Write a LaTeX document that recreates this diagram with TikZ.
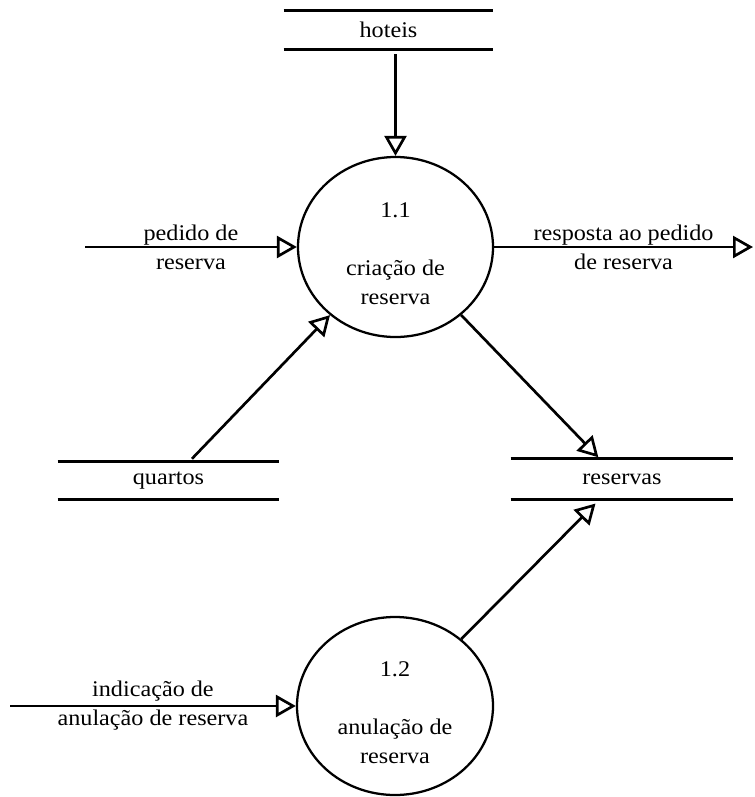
\documentclass[tikz,border=0pt]{standalone}
\usepackage{fontspec}
\setmainfont{Liberation Serif}[FakeStretch=1.08]
\usetikzlibrary{arrows.meta,shapes.geometric,calc}

\begin{document}
\begin{tikzpicture}[x=0.75pt,y=-0.75pt,
  every node/.style={font=\fontsize{16.8pt}{21.75pt}\selectfont, inner sep=0pt},
  process/.style={ellipse, draw, line width=1.7pt},
  proctext/.style={align=center},
  store/.style={},
  storeline/.style={line width=2pt},
  flow/.style={line width=2pt, -{Triangle[open,length=15pt,width=16.5pt]}},
  flowlabel/.style={align=center}]

  \useasboundingbox (0,0) rectangle (755,797);

  % data stores
  \node[store, minimum width=156.75pt, minimum height=28.5pt] (hoteis) at (388.5,30) {hoteis};
  \node[store, minimum width=165.75pt, minimum height=27.75pt] (quartos) at (168.5,480.5) {quartos};
  \node[store, minimum width=166.5pt, minimum height=30pt] (reservas) at (622,479) {reservas};
  \foreach \s in {hoteis,quartos,reservas} {
    \draw[storeline] (\s.north west) -- (\s.north east);
    \draw[storeline] (\s.south west) -- (\s.south east);
  }

  % processes
  \node[process, minimum width=146.25pt, minimum height=135pt] (p11) at (395.5,247) {};
  \node[proctext] (p11label) at (395.5,254) {1.1\\[21.75pt]criação de\\reserva};
  \node[process, minimum width=147pt, minimum height=133.5pt] (p12) at (395,706) {};
  \node[proctext] (p12label) at (395,712.5) {1.2\\[21.75pt]anulação de\\reserva};

  % external flow ends
  \coordinate (pedidoIn) at (85,247);
  \coordinate (respostaOut) at (753,247);
  \coordinate (anulIn) at (10,706);

  % data flows
  \draw[flow, shorten <=3.75pt] (hoteis.south -| p11.north) -- (p11.north);
  \draw[flow] (pedidoIn) -- node[flowlabel] (lblPedido) {pedido de\\reserva} (p11.west);
  \draw[flow] (p11.east) -- node[flowlabel] (lblResposta) {resposta ao pedido\\de reserva} (respostaOut);
  \draw[flow] ([xshift=17.6pt,yshift=2.25pt]quartos.north) -- (p11);
  \draw[flow, shorten >=1.5pt] (p11) -- ($(reservas.north west)!0.4!(reservas.north east)$);
  \draw[flow, shorten >=4.5pt] (p12) -- ($(reservas.south west)!0.4!(reservas.south east)$);
  \draw[flow] (anulIn) -- node[flowlabel] (lblAnul) {indicação de\\anulação de reserva} (p12.west);
\end{tikzpicture}
\end{document}
